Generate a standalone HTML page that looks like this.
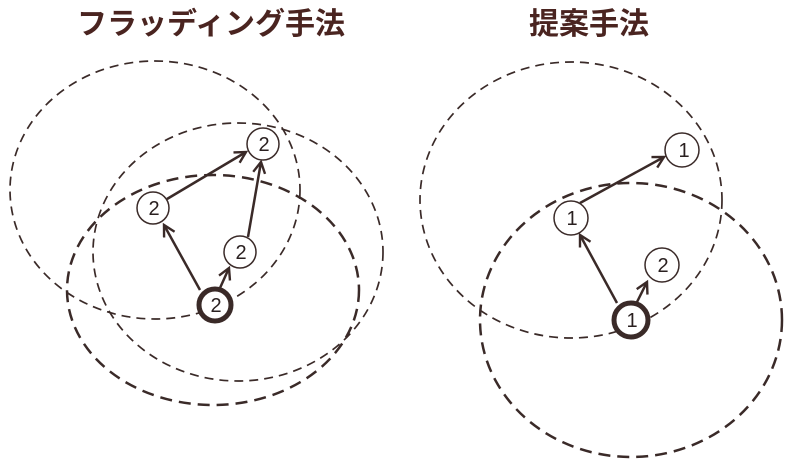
<!DOCTYPE html>
<html><head><meta charset="utf-8"><style>
html,body{margin:0;padding:0;background:#fff;width:795px;height:465px;overflow:hidden}
</style></head><body>
<svg width="795" height="465" viewBox="0 0 795 465" xmlns="http://www.w3.org/2000/svg">
<defs>
<marker id="ah" markerWidth="16" markerHeight="16" refX="12" refY="7" orient="auto" markerUnits="userSpaceOnUse">
<path d="M1,1 L12,7 L1,13" fill="none" stroke="#3a2a28" stroke-width="2.4"/>
</marker>
</defs>
<g font-family="Liberation Sans, Noto Sans CJK JP, sans-serif" font-weight="bold" font-size="30" fill="#4a2420">
<text x="211" y="34" text-anchor="middle">フラッディング手法</text>
<text x="589" y="34" text-anchor="middle">提案手法</text>
</g>
<g fill="none" stroke="#3a2a28">
<ellipse cx="155" cy="190" rx="145" ry="129" stroke-width="1.7" stroke-dasharray="9,6"/>
<ellipse cx="238" cy="252" rx="145" ry="129" stroke-width="1.7" stroke-dasharray="9,6"/>
<ellipse cx="213" cy="290" rx="146" ry="115" stroke-width="2.5" stroke-dasharray="12,7"/>
<ellipse cx="571" cy="200" rx="151" ry="138" stroke-width="1.7" stroke-dasharray="9,6"/>
<ellipse cx="631" cy="320" rx="151" ry="137" stroke-width="2.5" stroke-dasharray="12,7"/>
</g>
<g stroke="#3a2a28" stroke-width="2.5" marker-end="url(#ah)">
<line x1="200" y1="290" x2="164" y2="225"/>
<line x1="220" y1="288" x2="229" y2="268"/>
<line x1="167" y1="199" x2="246" y2="152"/>
<line x1="248" y1="237" x2="261" y2="162"/>
<line x1="580" y1="203" x2="664" y2="157"/>
<line x1="617" y1="303" x2="580" y2="235"/>
<line x1="637" y1="302" x2="647" y2="282"/>
</g>
<g fill="#fff" stroke="#3a2a28">
<circle cx="263" cy="144" r="16" stroke-width="1.5"/>
<circle cx="153" cy="208" r="16" stroke-width="1.5"/>
<circle cx="240" cy="252" r="16" stroke-width="1.5"/>
<circle cx="215" cy="305" r="16" stroke-width="5"/>
<circle cx="682" cy="150" r="17" stroke-width="1.5"/>
<circle cx="571" cy="218" r="17" stroke-width="1.5"/>
<circle cx="662" cy="265" r="17" stroke-width="1.5"/>
<circle cx="631" cy="320" r="17" stroke-width="5"/>
</g>
<g font-family="Liberation Sans, sans-serif" font-size="20" fill="#2a2020" text-anchor="middle">
<text x="264" y="151">2</text>
<text x="154" y="215">2</text>
<text x="241" y="259">2</text>
<text x="216" y="312">2</text>
<text x="684" y="157">1</text>
<text x="572" y="225">1</text>
<text x="663" y="272">2</text>
<text x="632" y="327">1</text>
</g>
</svg>
</body></html>
